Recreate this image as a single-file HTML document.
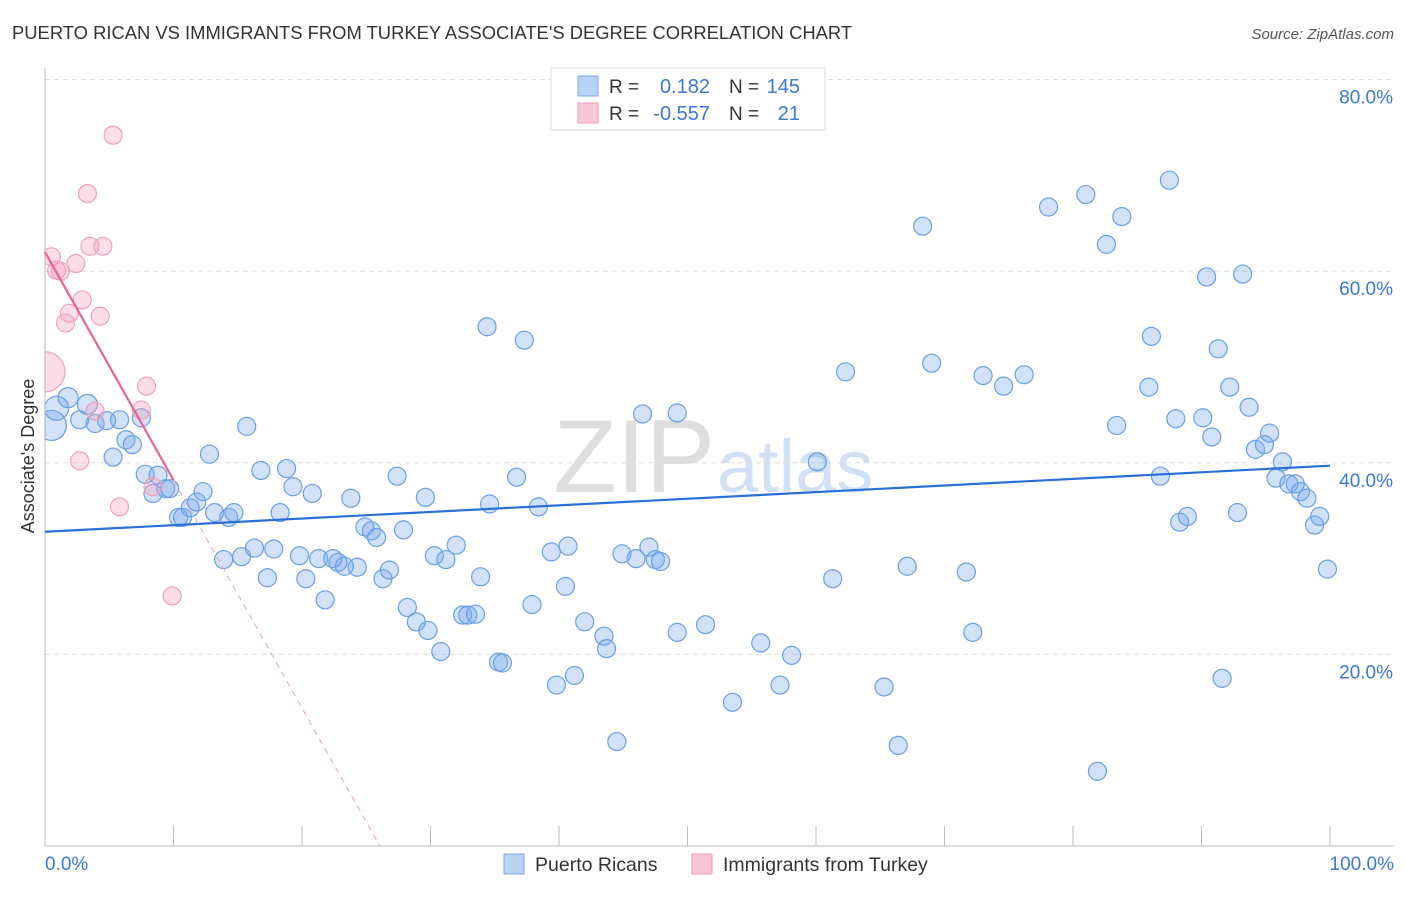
<!DOCTYPE html>
<html><head><meta charset="utf-8">
<style>
body{margin:0;background:#fff;font-family:"Liberation Sans",sans-serif;}
svg text{font-family:"Liberation Sans",sans-serif;}
</style></head>
<body>
<svg id="chart" width="1406" height="892" xmlns="http://www.w3.org/2000/svg">
<text x="12" y="39" font-size="18.4" fill="#333">PUERTO RICAN VS IMMIGRANTS FROM TURKEY ASSOCIATE'S DEGREE CORRELATION CHART</text>
<text x="1394" y="39" font-size="15" fill="#555" font-style="italic" text-anchor="end">Source: ZipAtlas.com</text>
<text x="715" y="492" font-size="104" fill="#dedede" text-anchor="end" font-family="Liberation Serif">ZIP</text>
<text x="717" y="492" font-size="74" fill="#d0e0f5">atlas</text>
<g id="grid"></g>
<g id="points"></g>
<g id="axes"></g>
<g id="trends"></g>
<text transform="translate(34,456) rotate(-90)" font-size="18" fill="#333" text-anchor="middle">Associate's Degree</text>
<text x="45" y="870" font-size="19" fill="#3b78d8">0.0%</text>
<text x="1394" y="870" font-size="19" fill="#3b78d8" text-anchor="end">100.0%</text>
<g>
<rect x="551" y="68" width="274" height="62" fill="#fff" stroke="#ddd"/>
<rect x="578" y="76" width="20" height="20" fill="#b7d3f5" stroke="#7aa7e6"/>
<rect x="578" y="103" width="20" height="20" fill="#f9c6d5" stroke="#f09ab4"/>
<text x="609" y="93" font-size="19" fill="#333">R =</text>
<text x="710" y="93" font-size="20" fill="#3b78d8" text-anchor="end">0.182</text>
<text x="729" y="93" font-size="19" fill="#333">N =</text>
<text x="800" y="93" font-size="20" fill="#3b78d8" text-anchor="end">145</text>
<text x="609" y="120" font-size="19" fill="#333">R =</text>
<text x="710" y="120" font-size="20" fill="#3b78d8" text-anchor="end">-0.557</text>
<text x="729" y="120" font-size="19" fill="#333">N =</text>
<text x="800" y="120" font-size="20" fill="#3b78d8" text-anchor="end">21</text>
</g>
<g>
<rect x="504" y="854" width="20" height="20" fill="#b7d3f5" stroke="#7aa7e6"/>
<text x="535" y="871" font-size="19.5" fill="#333">Puerto Ricans</text>
<rect x="692" y="854" width="20" height="20" fill="#f9c6d5" stroke="#f09ab4"/>
<text x="723" y="871" font-size="19.5" fill="#333">Immigrants from Turkey</text>
</g>
</svg>
<script>
const yTicks=[20,40,60,80];
const xTicks=[0,10,20,30,40,50,60,70,80,90,100];
const blueX=[0.5,0.9,1.8,3.3,2.7,3.9,4.8,5.8,5.3,6.3,6.8,7.5,7.8,8.4,8.8,9.4,9.7,10.4,10.7,11.3,11.8,12.3,12.8,13.2,13.9,14.3,14.7,15.3,15.7,16.3,16.8,17.3,17.8,18.3,18.8,19.3,19.8,20.3,20.8,21.3,21.8,22.4,22.8,23.3,23.8,24.3,24.9,25.4,25.8,26.3,26.8,27.4,27.9,28.2,28.9,29.6,29.8,30.3,30.8,31.2,32.0,32.5,32.9,33.5,33.9,34.4,34.6,35.3,35.6,36.7,37.3,37.9,38.4,39.4,39.8,40.5,40.7,41.2,42.0,43.5,43.7,44.5,44.9,46.0,46.5,47.0,47.5,47.9,49.2,49.2,51.4,53.5,55.7,57.2,58.1,60.1,61.3,62.3,65.3,66.4,67.1,68.3,69.0,71.7,72.2,73.0,74.6,76.2,78.1,81.0,81.9,82.6,83.4,83.8,85.9,86.1,86.8,87.5,88.3,88.9,88.0,90.1,90.4,90.8,91.3,91.6,92.2,92.8,93.2,93.7,94.2,94.9,95.3,95.8,96.3,96.8,97.3,97.7,98.2,98.8,99.2,99.8];
const blueY=[43.9,45.7,46.8,46.1,44.5,44.1,44.4,44.5,40.6,42.4,41.9,44.7,38.8,36.8,38.7,37.3,37.3,34.3,34.3,35.3,35.9,37.0,40.9,34.8,29.9,34.3,34.8,30.2,43.8,31.1,39.2,28.0,31.0,34.8,39.4,37.5,30.3,27.9,36.8,30.0,25.7,30.0,29.6,29.2,36.3,29.1,33.3,32.9,32.2,27.9,28.8,38.6,33.0,24.9,23.4,36.4,22.5,30.3,20.3,29.9,31.4,24.1,24.1,24.2,28.1,54.2,35.7,19.2,19.1,38.5,52.8,25.2,35.4,30.7,16.8,27.1,31.3,17.8,23.4,21.9,20.6,10.9,30.5,30.0,45.1,31.2,29.9,29.7,45.2,22.3,23.1,15.0,21.2,16.8,19.9,40.1,27.9,49.5,16.6,10.5,29.2,64.7,50.4,28.6,22.3,49.1,48.0,49.2,66.7,68.0,7.8,62.8,43.9,65.7,47.9,53.2,38.6,69.5,33.8,34.4,44.6,44.7,59.4,42.7,51.9,17.5,47.9,34.8,59.7,45.8,41.4,41.9,43.1,38.4,40.1,37.8,37.8,37.0,36.3,33.5,34.4,28.9];
const blueSize=[15,12,10,10,9,9,9,9,9,9,9,9];
const pinkX=[0,5.3,3.3,0.5,3.5,4.5,2.4,0.9,1.2,2.9,1.9,1.6,4.3,7.9,3.9,7.5,2.7,8.4,5.8,9.9];
const pinkY=[49.5,74.2,68.1,61.5,62.6,62.6,60.8,60.1,60.0,57.0,55.6,54.6,55.3,48.0,45.4,45.5,40.2,37.5,35.4,26.1];
const pinkSize=[20];
const blueTrend=[32.8,39.7];
const pinkTrend=[62.0,-2.38];
const NS='http://www.w3.org/2000/svg';
const X=v=>45+v*12.85;
const Y=v=>846-v*9.58;
const LEFT=45;
function mk(tag,attrs,parent){const e=document.createElementNS(NS,tag);for(const k in attrs)e.setAttribute(k,attrs[k]);document.getElementById(parent).appendChild(e);return e;}
function dot(cx,cy,r,fill,stroke){
 if(cx-r>=LEFT) return mk('circle',{cx:cx,cy:cy,r:r,fill:fill,stroke:stroke,'stroke-width':1.2},'points');
 const d=LEFT-cx, h=Math.sqrt(Math.max(r*r-d*d,0)), large=cx>LEFT?1:0;
 return mk('path',{d:`M${LEFT},${cy-h} A${r},${r} 0 ${large} 1 ${LEFT},${cy+h} Z`,fill:fill,stroke:stroke,'stroke-width':1.2},'points');
}
yTicks.forEach(t=>{
 const l=mk('line',{x1:45,x2:1393,y1:Y(t),y2:Y(t),stroke:'#ddd','stroke-dasharray':'5,4'},'grid');
 
 
 const tx=mk('text',{x:1393,y:Y(t)+24,'font-size':19,fill:'#3b78d8','text-anchor':'end'},'grid');
 tx.textContent=t.toFixed(1)+'%';
 
 
});
const ya=mk('line',{x1:45,x2:45,y1:68,y2:846,stroke:'#bbb'},'axes');


const xa=mk('line',{x1:45,x2:1393,y1:846,y2:846,stroke:'#bbb'},'axes');


xTicks.forEach(t=>{
 const l=mk('line',{x1:X(t),x2:X(t),y1:826,y2:846,stroke:'#bbb'},'axes');
 
 
});
blueX.forEach((x,i)=>{
 const c=dot(X(x),Y(blueY[i]),blueSize[i]||9,'rgba(120,170,235,0.35)','#6a9fe3');
 
 
});
pinkX.forEach((x,i)=>{
 const c=dot(X(x),Y(pinkY[i]),pinkSize[i]||9,'rgba(245,160,190,0.35)','#f0a0b8');
 
 
});
const bt=mk('line',{x1:X(0),y1:Y(blueTrend[0]),x2:X(100),y2:Y(blueTrend[1]),stroke:'#2a6fd6','stroke-width':2.2},'trends');


const pEnd=10, pZero=-pinkTrend[0]/pinkTrend[1];
const pt=mk('line',{x1:X(0),y1:Y(pinkTrend[0]),x2:X(pEnd),y2:Y(pinkTrend[0]+pinkTrend[1]*pEnd),stroke:'#e8638f','stroke-width':2.2},'trends');


const pd=mk('line',{x1:X(pEnd),y1:Y(pinkTrend[0]+pinkTrend[1]*pEnd),x2:X(pZero),y2:Y(0),stroke:'#e8a0b8','stroke-width':1,'stroke-dasharray':'6,5'},'trends');


</script>
</body></html>
